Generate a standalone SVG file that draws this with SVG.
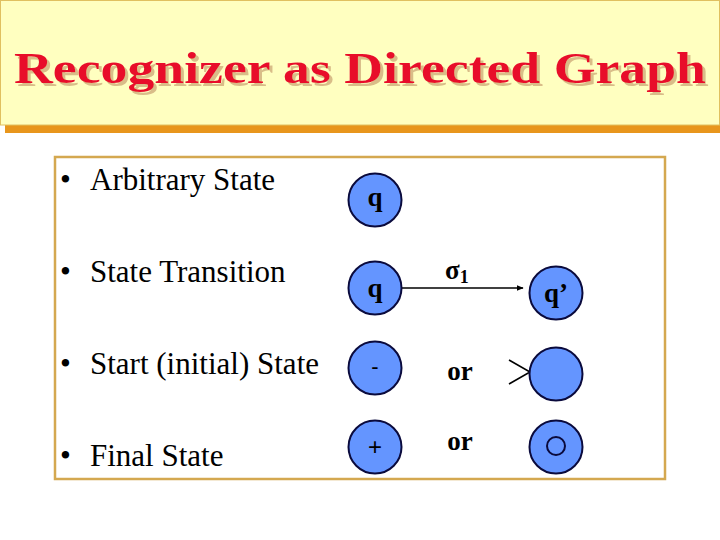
<svg xmlns="http://www.w3.org/2000/svg" width="720" height="540" viewBox="0 0 720 540">
<defs>
<style>
.title{font-family:"Liberation Serif","DejaVu Serif",serif;font-weight:bold;font-size:44px;}
.item{font-family:"Liberation Serif","DejaVu Serif",serif;font-size:31px;fill:#000;}
.lab{font-family:"Liberation Serif","DejaVu Serif",serif;font-weight:bold;font-size:27px;fill:#000;}
.sym{font-family:"Liberation Sans","DejaVu Sans",sans-serif;fill:#000;}
.st{fill:#6495FF;stroke:#0A0A3C;stroke-width:2;}
.ln{stroke:#000;stroke-width:1.6;fill:none;}
</style>
<filter id="shadow" x="-5%" y="-20%" width="110%" height="140%">
<feFlood flood-color="#C8A070" flood-opacity="0.7" result="c"/>
<feComposite in="c" in2="SourceAlpha" operator="in" result="s"/>
<feOffset in="s" dx="2.5" dy="2.5" result="o"/>
<feMerge><feMergeNode in="o"/><feMergeNode in="SourceGraphic"/></feMerge>
</filter>
<marker id="ah" viewBox="0 0 10 10" refX="9" refY="5" markerWidth="7" markerHeight="7" orient="auto" markerUnits="userSpaceOnUse">
<path d="M0,1 L10,5 L0,9 z" fill="#000"/>
</marker>
</defs>
<rect width="720" height="540" fill="#fff"/>
<g id="title">
<rect x="5" y="125" width="715" height="8" fill="#E8961C"/>
<rect x="0.5" y="0.5" width="719" height="124.5" fill="#FFFFC0" stroke="#E0C060" stroke-width="1"/>
<text class="title" x="14" y="83" textLength="692" lengthAdjust="spacingAndGlyphs" fill="#E8102C" filter="url(#shadow)">Recognizer as Directed Graph</text>
</g>
<rect id="frame" x="55" y="157" width="610" height="322" fill="none" stroke="#D4A850" stroke-width="2.5"/>
<g id="labels">
<text class="item" x="60" y="190">•</text><text class="item" x="90" y="190">Arbitrary State</text>
<text class="item" x="60" y="282">•</text><text class="item" x="90" y="282">State Transition</text>
<text class="item" x="60" y="374">•</text><text class="item" x="90" y="374">Start (initial) State</text>
<text class="item" x="60" y="466">•</text><text class="item" x="90" y="466">Final State</text>
</g>
<g id="connectors">
<line class="ln" x1="402" y1="288" x2="523" y2="288" marker-end="url(#ah)"/>
<polyline class="ln" points="509,360 530,372 509,384"/>
</g>
<g id="node-q1">
<circle class="st" cx="375" cy="200" r="26.5"/>
<text class="lab" x="375" y="206" text-anchor="middle">q</text>
</g>
<g id="node-q2">
<circle class="st" cx="375" cy="288" r="26.5"/>
<text class="lab" x="375" y="297" text-anchor="middle">q</text>
</g>
<g id="node-q3">
<circle class="st" cx="556" cy="293" r="26.5"/>
<text class="lab" x="556" y="302" text-anchor="middle">q’</text>
</g>
<text class="lab" x="445" y="279">σ<tspan font-size="18" dy="4">1</tspan></text>
<g id="node-start-minus">
<circle class="st" cx="375" cy="368" r="26.5"/>
<text class="sym" x="375" y="374" text-anchor="middle" font-size="22">-</text>
</g>
<text class="lab" x="460" y="380" text-anchor="middle">or</text>
<g id="node-start-arrow">
<circle class="st" cx="556" cy="374" r="26.5"/>
</g>
<g id="node-final-plus">
<circle class="st" cx="375" cy="447" r="26.5"/>
<text class="sym" x="375" y="455" text-anchor="middle" font-size="24">+</text>
</g>
<text class="lab" x="460" y="450" text-anchor="middle">or</text>
<g id="node-final-circle">
<circle class="st" cx="556" cy="447" r="26.5"/>
<circle cx="556" cy="446" r="9" fill="none" stroke="#0A0A3C" stroke-width="2"/>
</g>
</svg>
